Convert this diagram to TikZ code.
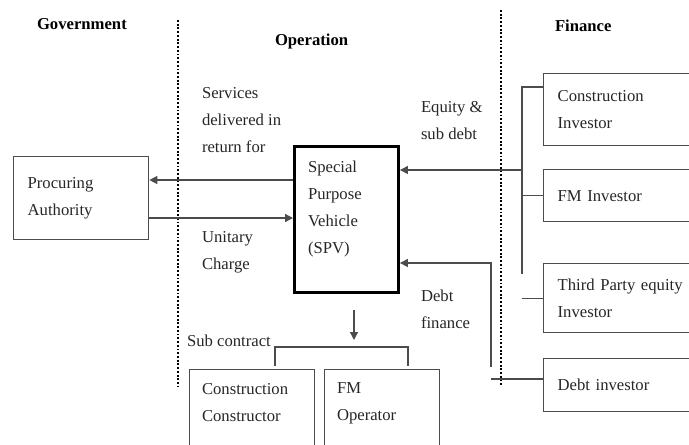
\documentclass[tikz,border=0pt]{standalone}
\usepackage{fontspec}
\setmainfont{Liberation Serif}
\usetikzlibrary{arrows.meta}
\begin{document}
\begin{tikzpicture}[x=0.75pt,y=-0.75pt,
  every node/.style={inner sep=0pt, outer sep=0pt},
  txt/.style={font=\fontsize{12.5}{20.25}\selectfont, align=left, anchor=north west, text=black!85},
  head/.style={font=\fontsize{12.5}{15}\selectfont\bfseries, anchor=base west},
  box/.style={draw=black!70, line width=1pt, anchor=north west, outer sep=0.5pt,
    font=\fontsize{12.5}{20.25}\selectfont, align=left, text=black!85, inner xsep=10.5pt},
  spvbox/.style={draw=black, line width=2.25pt, anchor=north west, outer sep=1.1pt},
  link/.style={draw=black!70, line width=1pt},
  arr/.style={link, -{Triangle[length=6pt,width=6pt]}},
  divider/.style={line width=1.6pt, dash pattern=on 1.4pt off 1.4pt},
]
\clip (0,0) rectangle (689,444);

% column headings
\node[head] (hgov) at (37,29) {Government};
\node[head] (hop)  at (275,45) {Operation};
\node[head] (hfin) at (555,31) {Finance};

% column dividers
\coordinate (d1t) at (178,20);  \coordinate (d1b) at (178,386);
\coordinate (d2t) at (501,10);  \coordinate (d2b) at (501,385);
\draw[divider] (d1t) -- (d1b);
\draw[divider] (d2t) -- (d2b);

% government
\node[box, text width=80.25pt, minimum width=101.25pt, minimum height=62.25pt] (pa) at (13,156)
  {Procuring\\Authority};

% special purpose vehicle
\node[spvbox, minimum width=78pt, minimum height=109.5pt] (spv) at (293,145) {};
\node[txt] (spvtext) at (308,161) {Special\\Purpose\\Vehicle\\(SPV)};

% finance side
\node[box, text width=111.75pt, minimum width=132.75pt, minimum height=54pt] (ci) at (543,73)
  {Construction\\Investor};
\node[box, text width=111.75pt, minimum width=132.75pt, minimum height=39pt] (fmi) at (543,169)
  {FM Investor};
\node[box, text width=111.75pt, minimum width=132.75pt, minimum height=51.75pt] (tpi) at (543,263)
  {Third Party equity\\Investor};
\node[box, text width=111.75pt, minimum width=132.75pt, minimum height=39.75pt] (dbi) at (543,358)
  {Debt investor};

% subcontractors
\node[box, minimum width=93.75pt, minimum height=90pt] (cc) at (189,369) {};
\node[box, minimum width=86.25pt, minimum height=90pt] (fmo) at (324,369) {};
\node[txt] (cctext) at (202,383) {Construction\\Constructor};
\node[txt] (fmotext) at (337,383) {FM\\Operator};

% flow labels
\node[txt] (lserv) at (202,87) {Services\\delivered in\\return for};
\node[txt] (lunit) at (202,231) {Unitary\\Charge};
\node[txt] (lequity) at (421,101) {Equity \&\\sub debt};
\node[txt] (ldebt) at (421,290) {Debt\\finance};
\node[txt] (lsub) at (187,335) {Sub contract};

% government <-> SPV
\coordinate (yserv) at (0,180);
\coordinate (yunit) at (0,218);
\draw[arr] (spv.west |- yserv) -- (pa.east |- yserv);
\draw[arr] (pa.east |- yunit) -- (spv.west |- yunit);

% equity bracket
\coordinate (eqtop) at (522,87);
\coordinate (eqbot) at (522,274);
\coordinate (eqmid) at (522,170);
\draw[link] (eqbot) -- (eqtop) -- (eqtop -| ci.west);
\draw[link] (fmi.west -| eqtop) -- (fmi.west);
\draw[link] (tpi.west -| eqtop) -- (tpi.west);
\draw[arr] (eqmid) -- (eqmid -| spv.east);

% debt finance
\coordinate (dbtop) at (491,263);
\coordinate (dbbot) at (491,367);
\coordinate (dbfoot) at (491,379);
\draw[arr] (dbbot) -- (dbtop) -- (dbtop -| spv.east);
\draw[link] (dbfoot) -- (dbfoot -| dbi.west);

% sub contract
\coordinate (sc1) at (354,310);
\coordinate (sc2) at (354,340);
\coordinate (brl) at (275,347);
\coordinate (brr) at (408,347);
\coordinate (legl) at (275,366);
\coordinate (legr) at (408,366);
\draw[arr] (sc1) -- (sc2);
\draw[link] (legl) -- (brl) -- (brr) -- (legr);
\end{tikzpicture}
\end{document}
